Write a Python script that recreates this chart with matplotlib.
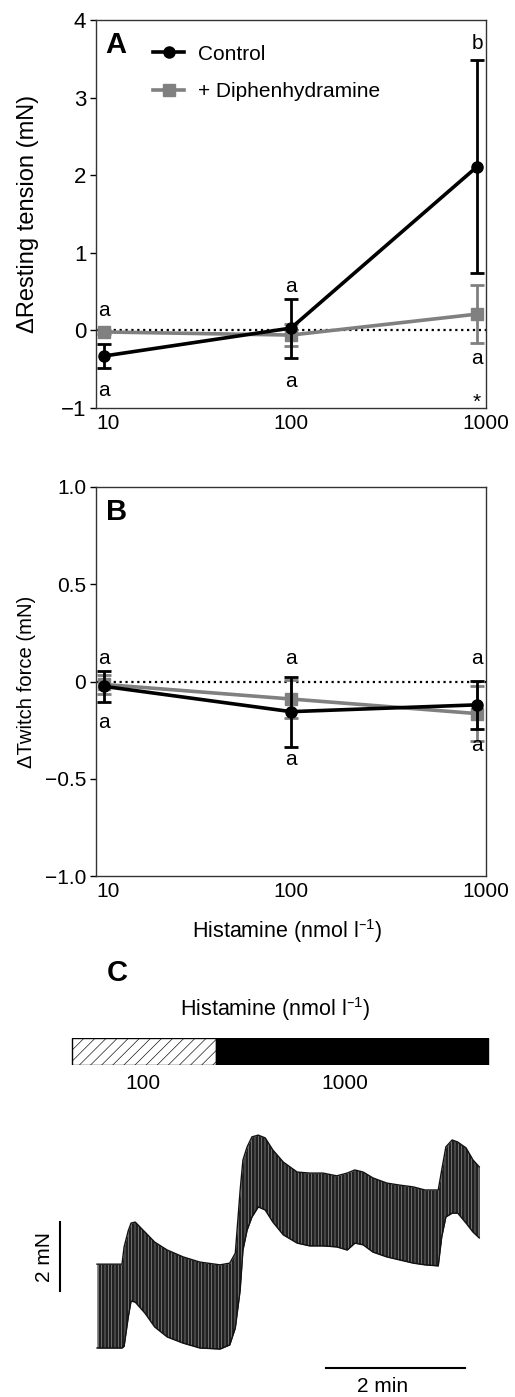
import matplotlib
matplotlib.use('Agg')
import matplotlib.pyplot as plt
from matplotlib.ticker import FuncFormatter, NullLocator

plt.rcParams['font.family'] = ['Liberation Sans', 'DejaVu Sans']
plt.rcParams['font.size'] = 15
plt.rcParams['mathtext.default'] = 'regular'
plt.rcParams['hatch.linewidth'] = 0.45

# ── Panels A/B: dose–response ───────────────────────────────────────────────
conc = [10, 100, 1000]
x_nudge = [1.1, 1.0, 0.9]          # keep end points off the spines

ctrl_A = [-0.33, 0.03, 2.11]
ctrl_A_err = [0.16, 0.38, 1.37]
diph_A = [-0.02, -0.06, 0.21]
diph_A_err = [0.03, 0.14, 0.37]

ctrl_B = [-0.025, -0.155, -0.12]
ctrl_B_err = [0.08, 0.18, 0.125]
diph_B = [-0.015, -0.09, -0.165]
diph_B_err = [0.05, 0.10, 0.14]

# significance letters: (concentration index, y, text)
letters_A = [(0, 0.26, 'a'), (0, -0.77, 'a'), (1, 0.56, 'a'), (1, -0.66, 'a'),
             (2, 3.70, 'b'), (2, -0.36, 'a'), (2, -0.93, '*')]
letters_B = [(0, 0.12, 'a'), (0, -0.21, 'a'), (1, 0.12, 'a'), (1, -0.40, 'a'),
             (2, 0.12, 'a'), (2, -0.33, 'a')]

# ── Panel C: twitch recording envelope (min, mN) ────────────────────────────
trace_t = [0.00, 0.36, 0.39, 0.45, 0.49, 0.55, 0.69, 0.83, 1.01, 1.24, 1.48,
           1.77, 1.91, 1.99, 2.06, 2.10, 2.16, 2.23, 2.32, 2.42, 2.53, 2.68,
           2.88, 3.06, 3.25, 3.45, 3.60, 3.71, 3.83, 3.97, 4.17, 4.36, 4.55,
           4.72, 4.91, 4.96, 5.02, 5.11, 5.19, 5.31, 5.41, 5.50]
trace_hi = [2.43, 2.43, 2.93, 3.40, 3.62, 3.65, 3.36, 3.07, 2.84, 2.64, 2.49,
            2.41, 2.46, 2.75, 4.58, 5.45, 5.83, 6.12, 6.17, 6.09, 5.74, 5.39,
            5.10, 5.07, 5.07, 4.99, 5.07, 5.16, 5.10, 4.93, 4.78, 4.72, 4.67,
            4.58, 4.58, 5.16, 5.83, 6.03, 5.97, 5.80, 5.45, 5.25]
trace_lo = [0.00, 0.00, 0.05, 0.90, 1.36, 1.33, 1.01, 0.61, 0.32, 0.14, 0.00,
            -0.03, 0.09, 0.58, 1.68, 2.84, 3.42, 3.80, 4.09, 4.00, 3.65, 3.28,
            3.04, 2.96, 2.96, 2.93, 2.84, 3.04, 2.99, 2.78, 2.64, 2.55, 2.46,
            2.41, 2.38, 3.22, 3.80, 3.91, 3.91, 3.62, 3.36, 3.19]

drug_labels = ['100', '1000']
drug_start = [-0.36, 1.71]
drug_end = [1.71, 5.63]

BLACK = '#000000'
GREY = '#808080'


def _fmt_a(v, _):
    return f'{int(round(v))}'.replace('-', '\u2212')


def _fmt_b(v, _):
    if abs(v) < 1e-9:
        return '0'
    return f'{v:.1f}'.replace('-', '\u2212')


def dose_panel(ax, ctrl, ctrl_err, diph, diph_err, letters, ylim, yticks,
               fmt, ylabel, tag, ytick_fs, ylabel_fs, ylabel_x):
    xs = [c * n for c, n in zip(conc, x_nudge)]
    ax.axhline(0, color='k', ls=':', lw=1.6, zorder=1)
    ax.errorbar(xs, diph, yerr=diph_err, fmt='none', ecolor=GREY,
                elinewidth=2, capsize=5, capthick=2, zorder=2)
    ax.plot(xs, diph, color=GREY, lw=2.6, marker='s', ms=8,
            label='+ Diphenhydramine', zorder=3)
    ax.errorbar(xs, ctrl, yerr=ctrl_err, fmt='none', ecolor=BLACK,
                elinewidth=2, capsize=5, capthick=2, zorder=4)
    ax.plot(xs, ctrl, color=BLACK, lw=2.6, marker='o', ms=8,
            label='Control', zorder=5)
    for i, y, s in letters:
        ax.text(xs[i], y, s, ha='center', va='center', fontsize=15)

    ax.set_xscale('log')
    ax.set_xlim(10, 1000)
    ax.set_xticks(conc)
    ax.set_xticklabels([str(c) for c in conc])
    ax.xaxis.set_minor_locator(NullLocator())
    ax.get_xticklabels()[0].set_ha('left')
    ax.tick_params(axis='x', length=0, pad=4)
    ax.set_ylim(*ylim)
    ax.set_yticks(yticks)
    ax.yaxis.set_major_formatter(FuncFormatter(fmt))
    ax.tick_params(axis='y', length=4, width=1, pad=3, labelsize=ytick_fs)
    for sp in ax.spines.values():
        sp.set_linewidth(1)
        sp.set_color('#333333')
    ax.set_ylabel(ylabel, fontsize=ylabel_fs)
    ax.yaxis.set_label_coords(ylabel_x, 0.5)
    ax.text(0.025, 0.972, tag, transform=ax.transAxes, fontsize=21,
            fontweight='bold', ha='left', va='top')


fig = plt.figure(figsize=(5.15, 13.97), dpi=100)
W, H = 515.0, 1397.0


def px_axes(x0, x1, y0, y1):
    return fig.add_axes([x0 / W, 1 - y1 / H, (x1 - x0) / W, (y1 - y0) / H])


axA = px_axes(96, 486, 20, 408)
dose_panel(axA, ctrl_A, ctrl_A_err, diph_A, diph_A_err, letters_A,
           (-1, 4), [-1, 0, 1, 2, 3, 4], _fmt_a,
           '\u0394Resting tension (mN)', 'A', 16, 17, -0.146)
h, l = axA.get_legend_handles_labels()
axA.legend(h[::-1], l[::-1], loc='upper left', bbox_to_anchor=(0.098, 0.985),
           frameon=False, handlelength=1.5, handletextpad=0.67,
           labelspacing=0.89, fontsize=15)

axB = px_axes(96, 486, 487, 876)
dose_panel(axB, ctrl_B, ctrl_B_err, diph_B, diph_B_err, letters_B,
           (-1, 1), [-1, -0.5, 0, 0.5, 1], _fmt_b,
           '\u0394Twitch force (mN)', 'B', 15, 14.6, -0.154)
axB.set_xlabel('Histamine (nmol l$^{\u2013 1}$)', fontsize=15.5)
axB.xaxis.set_label_coords(0.49, -0.105)

# ── Panel C ────────────────────────────────────────────────────────────────
T0, TPX = 97.0, 69.5        # px of t=0, px per min
Y0, YPX = 1348.0, 34.5      # px of 0 mN, px per mN


def t_of(px):
    return (px - T0) / TPX


axBar = px_axes(0, 515, 1038, 1065)
axBar.set_xlim(t_of(0), t_of(515))
axBar.set_ylim(0, 1)
axBar.axis('off')
axBar.barh([0.5], [drug_end[0] - drug_start[0]], left=[drug_start[0]],
           height=1, color='white', edgecolor='black', hatch='///', lw=1)
axBar.barh([0.5], [drug_end[1] - drug_start[1]], left=[drug_start[1]],
           height=1, color='black', edgecolor='black', lw=1)
for px, lab in zip([143, 345], drug_labels):
    axBar.text(t_of(px), -0.70, lab, ha='center', va='center', fontsize=15)
axBar.text(t_of(275), 2.07, 'Histamine (nmol l$^{\u2013 1}$)',
           ha='center', va='center', fontsize=15.5)
axBar.text(t_of(117), 3.41, 'C', ha='center', va='center', fontsize=21,
           fontweight='bold')

axC = px_axes(0, 515, 1100, 1397)
axC.set_xlim(t_of(0), t_of(515))
axC.set_ylim((Y0 - 1397) / YPX, (Y0 - 1100) / YPX)
axC.axis('off')
axC.fill_between(trace_t, trace_lo, trace_hi, color='#202020', lw=0)
axC.fill_between(trace_t, trace_lo, trace_hi, facecolor='none',
                 edgecolor='#9a9a9a', hatch='|||||', lw=0)
axC.plot(trace_t, trace_hi, color='#111111', lw=1.0)
axC.plot(trace_t, trace_lo, color='#111111', lw=1.0)

# scale bars
axC.plot([t_of(60), t_of(60)], [1.65, 3.65], color='k', lw=1.5)
axC.text(t_of(45), 2.64, '2 mN', rotation=90, ha='center', va='center',
         fontsize=15)
axC.plot([t_of(326), t_of(465)], [-0.58, -0.58], color='k', lw=1.5)
axC.text(t_of(383), -1.13, '2 min', ha='center', va='center', fontsize=15)

fig.savefig('out.png', dpi=100)
